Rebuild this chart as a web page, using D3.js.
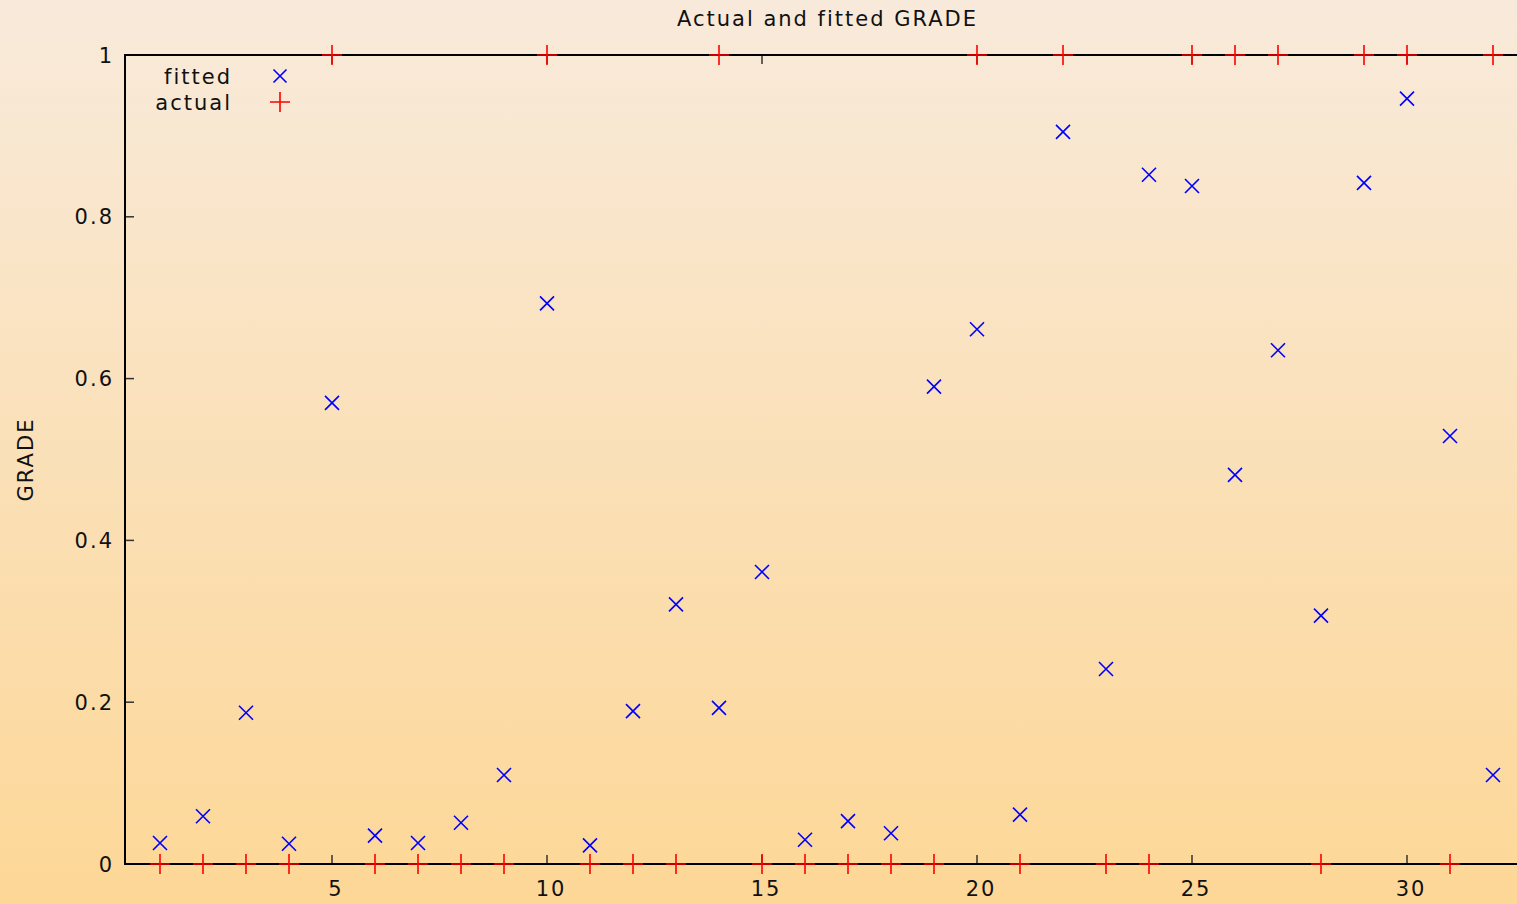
<!DOCTYPE html>
<html>
<head>
<meta charset="utf-8">
<script src="https://cdn.jsdelivr.net/npm/d3@7"></script>
<style>
  html, body { margin: 0; padding: 0; overflow: hidden; }
  text { font-family: "DejaVu Sans", Verdana, sans-serif; fill: #111; font-size: 21px; letter-spacing: 2px; }
</style>
</head>
<body>
<div id="chart"></div>
<script>
// observation index 1..32
const obs = d3.range(1, 33)
// actual GRADE (0/1)
const actual = [0, 0, 0, 0, 1, 0, 0, 0, 0, 1, 0, 0, 0, 1, 0, 0,
  0, 0, 0, 1, 0, 1, 0, 0, 1, 1, 1, 0, 1, 1, 0, 1]
// fitted probabilities
const fitted = [0.026, 0.059, 0.187, 0.025, 0.570, 0.035, 0.026, 0.051,
  0.110, 0.693, 0.023, 0.189, 0.321, 0.193, 0.361, 0.030,
  0.053, 0.038, 0.590, 0.661, 0.061, 0.905, 0.241, 0.852,
  0.838, 0.481, 0.635, 0.307, 0.842, 0.946, 0.529, 0.110]
const xTicks = [5, 10, 15, 20, 25, 30]
const yTicks = [0, 0.2, 0.4, 0.6, 0.8, 1]

const width = 1517
const height = 904
const margin = { top: 55, right: -11, bottom: 40, left: 125 }

const svg = d3.select('#chart').append('svg')
  .attr('width', width)
  .attr('height', height)

const grad = svg.append('defs').append('linearGradient')
  .attr('id', 'bg')
  .attr('x1', 0).attr('y1', 0).attr('x2', 0).attr('y2', 1)
grad.append('stop').attr('offset', '0%').attr('stop-color', '#f8eadb')
grad.append('stop').attr('offset', '100%').attr('stop-color', '#fdd796')

svg.append('rect')
  .attr('width', width)
  .attr('height', height)
  .attr('fill', 'url(#bg)')

const x = d3.scaleLinear()
  .domain([0.186, 32.814])
  .range([margin.left, width - margin.right])

const y = d3.scaleLinear()
  .domain([0, 1])
  .range([height - margin.bottom, margin.top])

const x0 = x.range()[0]
const x1 = x.range()[1]
const y0 = y.range()[0]
const y1 = y.range()[1]

// ticks (inward, mirrored)
const tickLen = 9
const ticks = svg.append('g').attr('stroke', '#333').attr('stroke-width', 1.5)
yTicks.forEach(t => {
  ticks.append('line').attr('x1', x0).attr('x2', x0 + tickLen).attr('y1', y(t)).attr('y2', y(t))
  ticks.append('line').attr('x1', x1).attr('x2', x1 - tickLen).attr('y1', y(t)).attr('y2', y(t))
})
xTicks.forEach(t => {
  ticks.append('line').attr('x1', x(t)).attr('x2', x(t)).attr('y1', y0).attr('y2', y0 - tickLen)
  ticks.append('line').attr('x1', x(t)).attr('x2', x(t)).attr('y1', y1).attr('y2', y1 + tickLen)
})

// frame
svg.append('rect')
  .attr('x', x0).attr('y', y1)
  .attr('width', x1 - x0).attr('height', y0 - y1)
  .attr('fill', 'none')
  .attr('stroke', '#000')
  .attr('stroke-width', 2)

// tick labels
svg.append('g').selectAll('text')
  .data(yTicks)
  .enter()
  .append('text')
  .attr('x', x0 - 11)
  .attr('y', d => y(d))
  .attr('dy', '0.36em')
  .attr('text-anchor', 'end')
  .text(d => d3.format('')(d))

svg.append('g').selectAll('text')
  .data(xTicks)
  .enter()
  .append('text')
  .attr('x', d => x(d) + 4)
  .attr('y', y0 + 32)
  .attr('text-anchor', 'middle')
  .text(d => d)

// title and axis label
svg.append('text')
  .attr('x', (x0 + x1) / 2 + 1)
  .attr('y', 26)
  .attr('text-anchor', 'middle')
  .text('Actual and fitted GRADE')

svg.append('text')
  .attr('transform', `translate(33, ${(y0 + y1) / 2}) rotate(-90)`)
  .attr('text-anchor', 'middle')
  .text('GRADE')

// markers
const cross = (g, cx, cy, r, color) => {
  g.append('path')
    .attr('d', `M${cx - r},${cy - r}L${cx + r},${cy + r}M${cx - r},${cy + r}L${cx + r},${cy - r}`)
    .attr('stroke', color).attr('stroke-width', 1.6).attr('fill', 'none')
}
const plus = (g, cx, cy, r, color) => {
  g.append('path')
    .attr('d', `M${cx - r},${cy}L${cx + r},${cy}M${cx},${cy - r}L${cx},${cy + r}`)
    .attr('stroke', color).attr('stroke-width', 1.6).attr('fill', 'none')
}

const marks = svg.append('g')
obs.forEach((o, i) => {
  plus(marks, x(o), y(actual[i]), 10, '#ff0000')
})
obs.forEach((o, i) => {
  cross(marks, x(o), y(fitted[i]), 7, '#0000ff')
})

// legend
const legend = svg.append('g')
legend.append('text')
  .attr('x', 232).attr('y', 76).attr('dy', '0.36em')
  .attr('text-anchor', 'end')
  .text('fitted')
cross(legend, 280, 76, 6.5, '#0000ff')
legend.append('text')
  .attr('x', 232).attr('y', 102).attr('dy', '0.36em')
  .attr('text-anchor', 'end')
  .text('actual')
plus(legend, 280, 102, 10, '#ff0000')
</script>
</body>
</html>
